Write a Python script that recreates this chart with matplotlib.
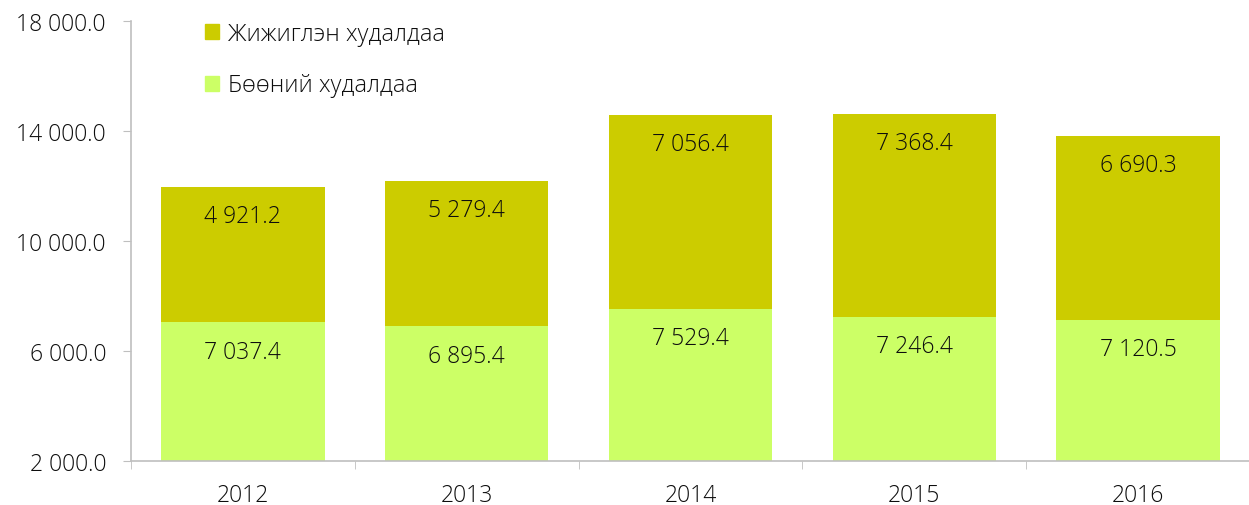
import numpy as np
import matplotlib.pyplot as plt
from matplotlib.patches import Patch

# Он ба худалдааны төрлүүд
years = ['2012', '2013', '2014', '2015', '2016']
wholesale = [7037.4, 6895.4, 7529.4, 7246.4, 7120.5]   # Бөөний худалдаа
retail = [4921.2, 5279.4, 7056.4, 7368.4, 6690.3]      # Жижиглэн худалдаа

label_retail = 'Жижиглэн худалдаа'
label_wholesale = 'Бөөний худалдаа'
yticks = [2000, 6000, 10000, 14000, 18000]

plt.rcParams['font.family'] = ['Open Sans', 'DejaVu Sans']
plt.rcParams['font.weight'] = 'light'
fs = 16.5
tc = '#0d0d0d'


def fmt(v):
    return f'{v:,.1f}'.replace(',', ' ')


fig = plt.figure(figsize=(12.49, 5.06), dpi=100)
ax = fig.add_axes([131 / 1249, 1 - 462 / 506, (1250 - 131) / 1249, (462 - 22) / 506])

x = np.arange(len(years))
w = 0.73
c_bot = '#CCFF66'
c_top = '#CCCC00'
ax.bar(x, wholesale, w, color=c_bot, zorder=2)
ax.bar(x, retail, w, bottom=wholesale, color=c_top, zorder=2)

for i in range(len(years)):
    tops = [wholesale[i], wholesale[i] + retail[i]]
    for v, t in zip([wholesale[i], retail[i]], tops):
        ax.annotate(fmt(v), (x[i], t), xytext=(0, -21), textcoords='offset points',
                    ha='center', va='center', fontsize=fs, color=tc)

ax.set_xlim(-0.5, len(years) - 0.5)
ax.set_ylim(2000, 18000)
ax.set_yticks(yticks)
ax.set_yticklabels([fmt(v) for v in yticks], fontsize=fs, color=tc)
ax.set_xticks(x)
ax.set_xticklabels(years, fontsize=fs, color=tc)
ax.set_xticks(np.arange(len(years) + 1) - 0.5, minor=True)
ax.tick_params(axis='x', which='major', length=0, pad=16)
ax.tick_params(axis='x', which='minor', length=6, color='#bfbfbf', direction='out')
ax.tick_params(axis='y', length=6, color='#bfbfbf', pad=12)

for s in ['top', 'right']:
    ax.spines[s].set_visible(False)
for s in ['left', 'bottom']:
    ax.spines[s].set_color('#bfbfbf')
    ax.spines[s].set_linewidth(1.2)

handles = [Patch(color=c_top, label=label_retail), Patch(color=c_bot, label=label_wholesale)]
fig.legend(handles=handles, loc='upper left', bbox_to_anchor=(184 / 1249, 1 - 2 / 506),
           frameon=False, fontsize=17, handlelength=0.6, handleheight=0.6,
           handletextpad=0.35, labelspacing=1.15, labelcolor=tc)

fig.savefig('out.png', dpi=100)
